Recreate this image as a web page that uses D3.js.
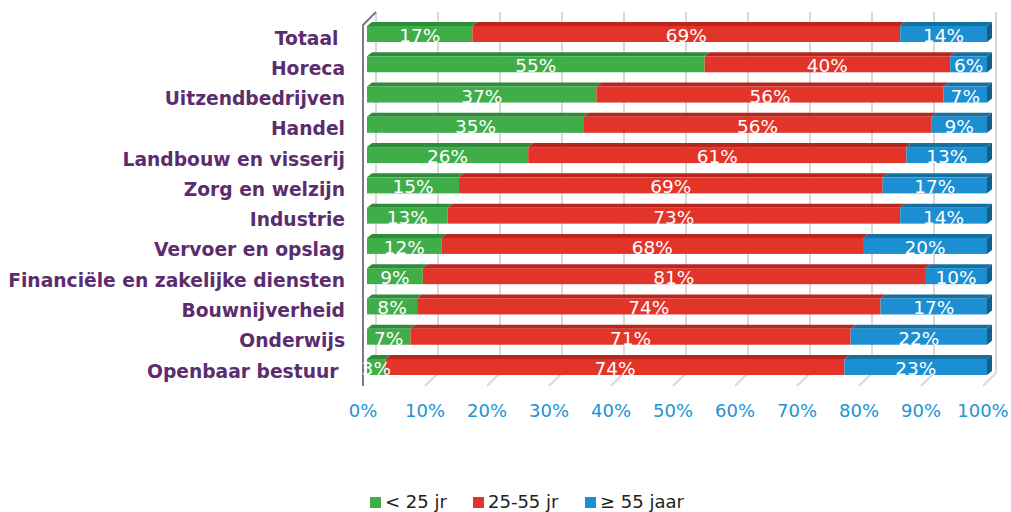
<!DOCTYPE html>
<html>
<head>
<meta charset="utf-8">
<script src="https://cdn.jsdelivr.net/npm/d3@7"></script>
<style>
  body { margin: 0; background: #fff; }
  svg { display: block; font-family: "DejaVu Sans", Verdana, sans-serif; }
</style>
</head>
<body>
<div id="chart"></div>
<script>
// data
var categories = ["Totaal ", "Horeca", "Uitzendbedrijven", "Handel", "Landbouw en visserij",
  "Zorg en welzijn", "Industrie", "Vervoer en opslag", "Financiële en zakelijke diensten",
  "Bouwnijverheid", "Onderwijs", "Openbaar bestuur "];
var under25 = [17, 55, 37, 35, 26, 15, 13, 12, 9, 8, 7, 3];
var mid25to55 = [69, 40, 56, 56, 61, 69, 73, 68, 81, 74, 71, 74];
var over55 = [14, 6, 7, 9, 13, 17, 14, 20, 10, 17, 22, 23];
var seriesNames = ["< 25 jr", "25-55 jr", "≥ 55 jaar"];
var tickValues = [0, 0.1, 0.2, 0.3, 0.4, 0.5, 0.6, 0.7, 0.8, 0.9, 1];

var width = 1011, height = 512;
var colors = ["#3fae49", "#e3342a", "#1b8fd2"];
var topColors = ["#2f8c3a", "#b8271f", "#16709f"];

var svg = d3.select("#chart").append("svg")
  .attr("width", width).attr("height", height);

// front plane + depth offset of the chart box
var x0 = 363, x1 = 983;
var depthX = 13, depthY = 13;
var wallTop = 12, floorY = 373;

var x = d3.scaleLinear().domain([0, 1]).range([x0, x1]);
var y = d3.scalePoint().domain(categories).range([34, 367]);

// back wall gridlines
svg.append("g").selectAll("line").data(tickValues).enter().append("line")
  .attr("x1", function(d) { return x(d) + depthX; })
  .attr("x2", function(d) { return x(d) + depthX; })
  .attr("y1", wallTop).attr("y2", floorY)
  .attr("stroke", "#d9d9d9").attr("stroke-width", 2);

// floor lines
svg.append("g").selectAll("line").data(tickValues.slice(1)).enter().append("line")
  .attr("x1", function(d) { return x(d) + depthX; })
  .attr("y1", floorY)
  .attr("x2", function(d) { return x(d); })
  .attr("y2", floorY + depthY)
  .attr("stroke", "#d9d9d9").attr("stroke-width", 2);

// left axis (purple)
svg.append("path")
  .attr("d", "M" + (x0 + depthX) + "," + wallTop + "L" + x0 + "," + (wallTop + depthY) +
    "L" + x0 + "," + (floorY + depthY))
  .attr("fill", "none").attr("stroke", "#85738f").attr("stroke-width", 2);

// build stacked rows
var rows = categories.map(function(c, i) {
  var vals = [under25[i], mid25to55[i], over55[i]];
  var total = d3.sum(vals);
  var acc = 0;
  return vals.map(function(v, k) {
    var s = { cat: c, k: k, v: v, start: acc / total, end: (acc + v) / total };
    acc += v;
    return s;
  });
});

var barX = d3.scaleLinear().domain([0, 1]).range([367, 987]);
var barH = 16, bdx = 5, bdy = 4;

var rowG = svg.append("g").selectAll("g").data(rows).enter().append("g");

// top faces
rowG.selectAll("path.top").data(function(d) { return d; }).enter().append("path")
  .attr("class", "top")
  .attr("d", function(d) {
    var yy = y(d.cat) - barH / 2;
    var a = barX(d.start), b = barX(d.end);
    return "M" + a + "," + yy + "L" + (a + bdx) + "," + (yy - bdy) + "L" + (b + bdx) + "," + (yy - bdy) +
      "L" + b + "," + yy + "Z";
  })
  .attr("fill", function(d) { return topColors[d.k]; });

// front faces
rowG.selectAll("rect").data(function(d) { return d; }).enter().append("rect")
  .attr("x", function(d) { return barX(d.start); })
  .attr("y", function(d) { return y(d.cat) - barH / 2; })
  .attr("width", function(d) { return barX(d.end) - barX(d.start); })
  .attr("height", barH)
  .attr("fill", function(d) { return colors[d.k]; });

// right side face of the last segment
rowG.append("path")
  .attr("d", function(d) {
    var s = d[2];
    var yy = y(s.cat) - barH / 2;
    var b = barX(s.end);
    return "M" + b + "," + yy + "L" + (b + bdx) + "," + (yy - bdy) + "L" + (b + bdx) + "," + (yy + barH - bdy) +
      "L" + b + "," + (yy + barH) + "Z";
  })
  .attr("fill", "#145f8a");

// value labels
rowG.selectAll("text").data(function(d) { return d; }).enter().append("text")
  .attr("x", function(d) { return (barX(d.start) + barX(d.end)) / 2; })
  .attr("y", function(d) { return y(d.cat) + 8; })
  .attr("text-anchor", "middle")
  .attr("fill", "#fff")
  .attr("font-size", 18.5)
  .text(function(d) { return d.v + "%"; });

// category labels
svg.append("g").selectAll("text").data(categories).enter().append("text")
  .attr("x", 345)
  .attr("y", function(d) { return y(d) + 10.5; })
  .attr("text-anchor", "end")
  .attr("fill", "#5b2d6e")
  .attr("font-weight", "bold")
  .attr("font-size", 18.7)
  .style("white-space", "pre")
  .text(function(d) { return d; });

// x tick labels
svg.append("g").selectAll("text").data(tickValues).enter().append("text")
  .attr("x", function(d) { return x(d); })
  .attr("y", 417)
  .attr("text-anchor", "middle")
  .attr("fill", "#2193d3")
  .attr("font-size", 18)
  .text(d3.format(".0%"));

// legend
var legendX = [370, 473, 585];
var legend = svg.append("g").selectAll("g").data(seriesNames).enter().append("g")
  .attr("transform", function(d, i) { return "translate(" + legendX[i] + ",0)"; });
legend.append("rect")
  .attr("x", 0).attr("y", 497).attr("width", 11).attr("height", 11)
  .attr("fill", function(d, i) { return colors[i]; });
legend.append("text")
  .attr("x", 15).attr("y", 508)
  .attr("fill", "#222")
  .attr("font-size", 18)
  .text(function(d) { return d; });
</script>
</body>
</html>
